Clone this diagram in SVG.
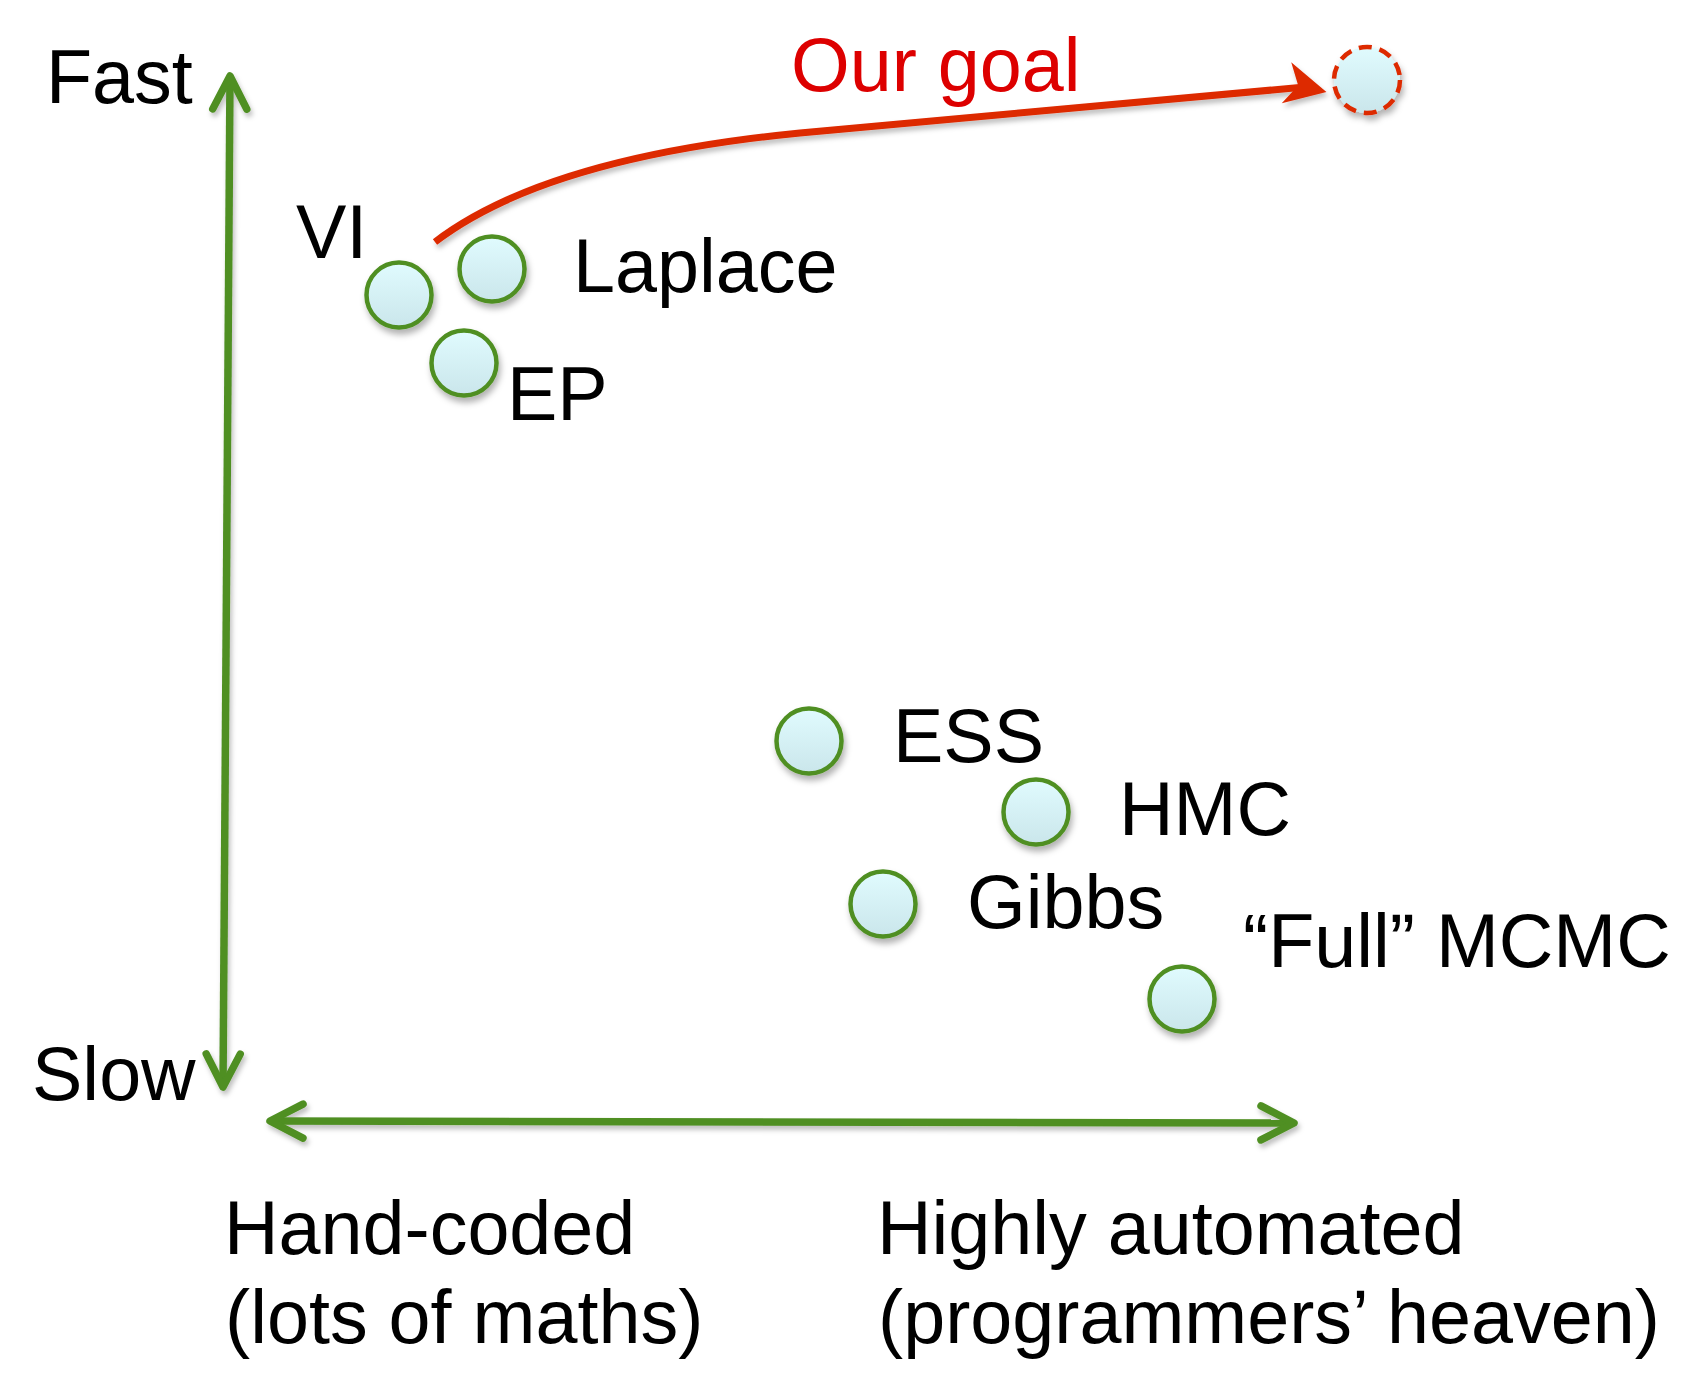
<svg xmlns="http://www.w3.org/2000/svg" width="1708" height="1379" viewBox="0 0 1708 1379">
  <style>
    .lbl { font-family: "Liberation Sans", Arial, sans-serif; font-size: 75.5px; fill: #000000; }
    .red { fill: #dd0000; }
    .node { fill: url(#ballFill); stroke: #4f8f23; stroke-width: 4.5; }
    .goal { fill: url(#ballFill); stroke: #dd2a00; stroke-width: 4.5; stroke-dasharray: 13 8; }
    .axis { fill: none; stroke: #4f8f23; stroke-width: 7.5; }
    .goalLine { fill: none; stroke: #dd2a00; stroke-width: 7; }
  </style>
  <defs>
    <linearGradient id="ballFill" x1="0" y1="0" x2="0" y2="1">
      <stop offset="0" stop-color="#e0fbfe"/>
      <stop offset="1" stop-color="#cae6eb"/>
    </linearGradient>
    <filter id="shadow" x="-20%" y="-20%" width="140%" height="150%">
      <feDropShadow dx="2" dy="5" stdDeviation="3" flood-color="#000000" flood-opacity="0.3"/>
    </filter>
    <filter id="lineShadow" filterUnits="userSpaceOnUse" x="0" y="0" width="1708" height="1379">
      <feDropShadow dx="2" dy="4" stdDeviation="2.5" flood-color="#000000" flood-opacity="0.25"/>
    </filter>
    <marker id="chev" markerUnits="userSpaceOnUse" markerWidth="80" markerHeight="80" viewBox="-50 -40 80 80" refX="0" refY="0" orient="auto-start-reverse" overflow="visible">
      <path d="M-33,-17 L0,0 L-33,17" fill="none" stroke="#4f8f23" stroke-width="7.5" stroke-linecap="round" stroke-linejoin="round"/>
    </marker>
    <marker id="stealth" markerUnits="userSpaceOnUse" markerWidth="80" markerHeight="80" viewBox="-40 -40 80 80" refX="0" refY="0" orient="13" overflow="visible">
      <path d="M22,0 L-19,-21 L-7,0 L-19,21 Z" fill="#dd2a00"/>
    </marker>
  </defs>

  <rect x="0" y="0" width="1708" height="1379" fill="#ffffff"/>

  <g id="connectors" filter="url(#lineShadow)">
    <path class="axis" d="M230,76 L223,1087" marker-start="url(#chev)" marker-end="url(#chev)"/>
    <path class="axis" d="M270,1121 L1294,1123" marker-start="url(#chev)" marker-end="url(#chev)"/>
    <path class="goalLine" d="M435,242 Q545,158 800,133 L1305,87" marker-end="url(#stealth)"/>
  </g>

  <g id="axis-labels">
    <text class="lbl" x="46" y="103">Fast</text>
    <text class="lbl" x="32" y="1100">Slow</text>
    <text class="lbl" x="224" y="1254">Hand-coded</text>
    <text class="lbl" x="225" y="1343">(lots of maths)</text>
    <text class="lbl" x="877" y="1254">Highly automated</text>
    <text class="lbl" x="878" y="1343">(programmers’ heaven)</text>
    <text class="lbl red" x="791" y="91">Our goal</text>
  </g>

  <g id="node-goal">
    <circle class="goal" cx="1367" cy="80" r="33" filter="url(#shadow)"/>
  </g>
  <g id="node-vi">
    <circle class="node" cx="399" cy="295" r="32.5" filter="url(#shadow)"/>
    <text class="lbl" x="296" y="258">VI</text>
  </g>
  <g id="node-laplace">
    <circle class="node" cx="492" cy="269" r="32.5" filter="url(#shadow)"/>
    <text class="lbl" x="573" y="292">Laplace</text>
  </g>
  <g id="node-ep">
    <circle class="node" cx="464" cy="363" r="32.5" filter="url(#shadow)"/>
    <text class="lbl" x="507" y="420">EP</text>
  </g>
  <g id="node-ess">
    <circle class="node" cx="809" cy="741" r="32.5" filter="url(#shadow)"/>
    <text class="lbl" x="893" y="762">ESS</text>
  </g>
  <g id="node-hmc">
    <circle class="node" cx="1036" cy="812" r="32.5" filter="url(#shadow)"/>
    <text class="lbl" x="1119" y="835">HMC</text>
  </g>
  <g id="node-gibbs">
    <circle class="node" cx="883" cy="904" r="32.5" filter="url(#shadow)"/>
    <text class="lbl" x="967" y="928">Gibbs</text>
  </g>
  <g id="node-full-mcmc">
    <circle class="node" cx="1182" cy="999" r="32.5" filter="url(#shadow)"/>
    <text class="lbl" x="1243" y="967">“Full” MCMC</text>
  </g>
</svg>
